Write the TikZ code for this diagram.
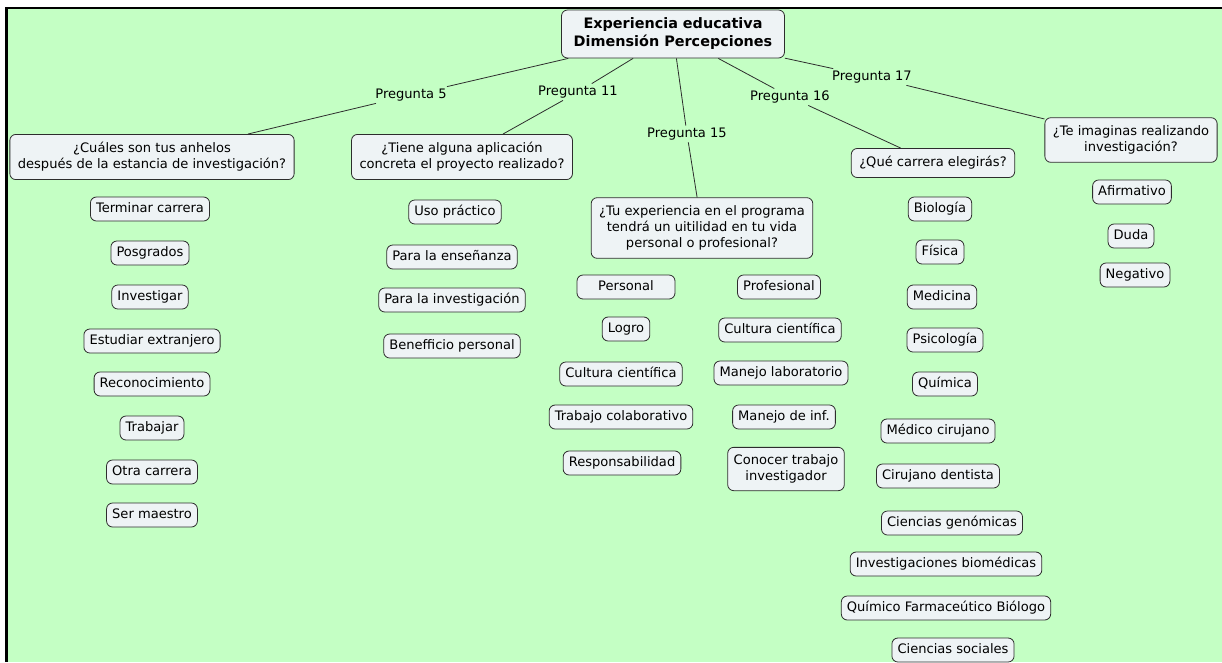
\documentclass[tikz,border=0pt]{standalone}
\usepackage{fontspec}
\setmainfont{DejaVu Sans}
\definecolor{bgg}{RGB}{196,255,196}
\definecolor{boxf}{RGB}{238,243,245}
\definecolor{boxd}{RGB}{45,45,45}
\begin{document}
\begin{tikzpicture}[x=0.75pt,y=-0.75pt,
  base/.style={draw=boxd,fill=boxf,rounded corners=4.5pt,line width=0.6pt,font=\fontsize{9.8}{12}\selectfont,align=center},
  box/.style={base,inner xsep=4.2pt,inner ysep=4.3pt,text height=7.3pt,text depth=2.1pt},
  mbox/.style={base,inner xsep=4.5pt,inner ysep=5.5pt},
  qbox/.style={base,inner xsep=6pt,inner ysep=6pt},
  sqbox/.style={base,inner xsep=6pt,inner ysep=6.2pt,text height=7.3pt,text depth=2.1pt},
  lab/.style={font=\fontsize{9.8}{12}\selectfont,inner sep=1.5pt},
  con/.style={draw=boxd,line width=0.6pt}]
\useasboundingbox (0,0) rectangle (1222,662);
\fill[white] (0,0) rectangle (1222,662);
\fill[bgg] (6,8) rectangle (1222,662);
\draw[line width=2.2pt] (5,8) -- (1222,8);
\draw[line width=2.4pt] (6.5,7) -- (6.5,662);

\node[base,font=\fontsize{10.8}{13.5}\selectfont\bfseries,inner xsep=6pt,inner ysep=6pt,minimum width=223*0.75pt,minimum height=48*0.75pt] (root) at (673,34) {Experiencia educativa\\Dimensión Percepciones};

\node[lab] (p5) at (411,95) {Pregunta 5};
\node[lab] (p11) at (578,92) {Pregunta 11};
\node[lab] (p15) at (687,134) {Pregunta 15};
\node[lab] (p16) at (790,97) {Pregunta 16};
\node[lab] (p17) at (872,77) {Pregunta 17};

\node[qbox] (q5) at (152,157) {¿Cuáles son tus anhelos\\después de la estancia de investigación?};
\node[qbox] (q11) at (462,157) {¿Tiene alguna aplicación\\concreta el proyecto realizado?};
\node[qbox] (q15) at (702,228) {¿Tu experiencia en el programa\\tendrá un uitilidad en tu vida\\personal o profesional?};
\node[sqbox] (q16) at (933,163) {¿Qué carrera elegirás?};
\node[qbox] (q17) at (1131,140) {¿Te imaginas realizando\\investigación?};

\draw[con] (root) -- (p5) -- (q5);
\draw[con] (root) -- (p11) -- (q11);
\draw[con] (root) -- (p15) -- (q15);
\draw[con] (root) -- (p16) -- (q16);
\draw[con] (root) -- (p17) -- (q17);

% Pregunta 5 leaves
\node[box] (a1) at (150,209) {Terminar carrera};
\node[box] (a2) at (150,253) {Posgrados};
\node[box] (a3) at (150,297) {Investigar};
\node[box] (a4) at (152,341) {Estudiar extranjero};
\node[box] (a5) at (152,384) {Reconocimiento};
\node[box] (a6) at (152,428) {Trabajar};
\node[box] (a7) at (152,472) {Otra carrera};
\node[box] (a8) at (152,515) {Ser maestro};

% Pregunta 11 leaves
\node[box] (b1) at (455,212) {Uso práctico};
\node[box] (b2) at (452,257) {Para la enseñanza};
\node[box] (b3) at (452,300) {Para la investigación};
\node[box] (b4) at (452,346) {Benefficio personal};

% Pregunta 15 leaves
\node[box,minimum width=98*0.75pt] (c1) at (626,287) {Personal};
\node[box] (c2) at (626,329) {Logro};
\node[box] (c3) at (621,374) {Cultura científica};
\node[box] (c4) at (621,417) {Trabajo colaborativo};
\node[box] (c5) at (622,463) {Responsabilidad};
\node[box] (d1) at (779,287) {Profesional};
\node[box] (d2) at (780,330) {Cultura científica};
\node[box] (d3) at (781,373) {Manejo laboratorio};
\node[box] (d4) at (784,417) {Manejo de inf.};
\node[mbox] (d5) at (786,469) {Conocer trabajo\\investigador};

% Pregunta 16 leaves
\node[box] (e1) at (940,209) {Biología};
\node[box] (e2) at (940,252) {Física};
\node[box] (e3) at (942,297) {Medicina};
\node[box] (e4) at (945,340) {Psicología};
\node[box] (e5) at (945,384) {Química};
\node[box] (e6) at (938,431) {Médico cirujano};
\node[box] (e7) at (938,476) {Cirujano dentista};
\node[box] (e8) at (952,523) {Ciencias genómicas};
\node[box] (e9) at (946,564) {Investigaciones biomédicas};
\node[box] (e10) at (946,608) {Químico Farmaceútico Biólogo};
\node[box] (e11) at (953,650) {Ciencias sociales};

% Pregunta 17 leaves
\node[box] (f1) at (1132,192) {Afirmativo};
\node[box] (f2) at (1131,236) {Duda};
\node[box] (f3) at (1135,275) {Negativo};
\end{tikzpicture}
\end{document}
